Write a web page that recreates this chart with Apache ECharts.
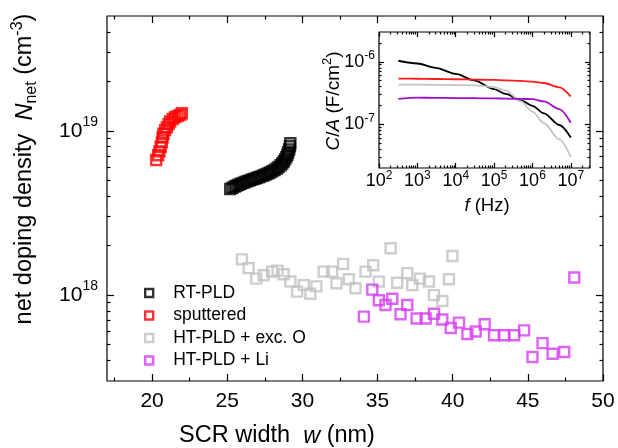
<!DOCTYPE html>
<html>
<head>
<meta charset="utf-8">
<script src="https://cdn.jsdelivr.net/npm/echarts@6.0.0/dist/echarts.min.js"></script>
<style>
html, body { margin: 0; padding: 0; background: #fff; }
#chart { width: 618px; height: 448px; }
</style>
</head>
<body>
<div id="chart"></div>
<script>
'use strict';
// main plot: SCR width w (nm) -> net doping density (cm^-3)
const rtPldW = [25.2, 25.35, 25.5, 25.62, 25.75, 25.9, 26.05, 26.2, 26.35, 26.5, 26.65, 26.8, 26.95, 27.1, 27.25, 27.4, 27.55, 27.7, 27.85, 28.0, 28.15, 28.3, 28.42, 28.55, 28.66, 28.76, 28.85, 28.93, 29.0, 29.06, 29.12, 29.17, 29.2];
const rtPldN = [4.42e18, 4.5e18, 4.58e18, 4.64e18, 4.7e18, 4.76e18, 4.82e18, 4.88e18, 4.94e18, 4.99e18, 5.05e18, 5.1e18, 5.16e18, 5.22e18, 5.28e18, 5.35e18, 5.42e18, 5.5e18, 5.58e18, 5.67e18, 5.77e18, 5.9e18, 6.02e18, 6.17e18, 6.33e18, 6.5e18, 6.7e18, 6.92e18, 7.15e18, 7.4e18, 7.7e18, 8.05e18, 8.4e18];

const sputW = [20.27, 20.4, 20.49, 20.57, 20.65, 20.7, 20.75, 20.87, 20.98, 21.1, 21.2, 21.37, 21.53, 21.7, 21.87, 21.98];
const sputN = [6.65e18, 7.1e18, 7.5e18, 8.0e18, 8.5e18, 9.1e18, 9.6e18, 1.01e19, 1.05e19, 1.10e19, 1.14e19, 1.18e19, 1.21e19, 1.23e19, 1.25e19, 1.28e19];

const htOW = [25.98, 26.42, 26.93, 27.42, 27.98, 28.35, 28.75, 29.2, 29.65, 30.09, 30.53, 30.93, 31.42, 31.98, 32.27, 32.71, 33.09, 33.53, 34.2, 34.71, 35.09, 35.87, 36.31, 36.98, 37.31, 37.82, 38.42, 38.75, 39.31, 39.75, 39.98];
const htON = [1.65e18, 1.46e18, 1.26e18, 1.32e18, 1.39e18, 1.41e18, 1.34e18, 1.21e18, 1.05e18, 1.15e18, 1.02e18, 1.13e18, 1.39e18, 1.39e18, 1.18e18, 1.55e18, 1.25e18, 1.10e18, 1.39e18, 1.52e18, 1.21e18, 1.93e18, 1.19e18, 1.36e18, 1.15e18, 1.26e18, 1.21e18, 1.0e18, 9.2e17, 1.25e18, 1.73e18];

const htLiW = [34.09, 34.65, 35.09, 35.53, 35.98, 36.53, 36.98, 37.6, 38.2, 38.75, 39.31, 39.87, 40.42, 40.98, 41.53, 42.13, 42.75, 43.42, 44.09, 44.75, 45.31, 45.98, 46.65, 47.42, 48.09];
const htLiN = [7.4e17, 1.08e18, 9.3e17, 8.7e17, 9.5e17, 7.65e17, 8.7e17, 7.2e17, 7.2e17, 7.7e17, 7.1e17, 6.3e17, 6.8e17, 5.8e17, 6.0e17, 6.65e17, 5.7e17, 5.7e17, 5.7e17, 6.1e17, 4.2e17, 5.1e17, 4.4e17, 4.5e17, 1.28e18];

// inset: f (Hz) -> C/A (F/cm^2)
const freqHz = [320, 1e3, 3e3, 1e4, 3e4, 1e5, 2e5, 5e5, 1e6, 2e6, 5e6, 1e7];
const capRtPld = [1.04e-6, 9.4e-7, 8.0e-7, 6.4e-7, 5.06e-7, 3.67e-7, 3.08e-7, 2.41e-7, 1.98e-7, 1.50e-7, 9.75e-8, 6.17e-8];
const capSput = [5.38e-7, 5.36e-7, 5.31e-7, 5.26e-7, 5.2e-7, 5.13e-7, 5.05e-7, 4.94e-7, 4.82e-7, 4.58e-7, 3.9e-7, 2.79e-7];
const capHtO = [4.31e-7, 4.31e-7, 4.28e-7, 4.25e-7, 4.2e-7, 3.95e-7, 3.49e-7, 2.32e-7, 1.6e-7, 1.04e-7, 5.73e-8, 3.0e-8];
const capHtLi = [2.56e-7, 2.67e-7, 2.65e-7, 2.63e-7, 2.62e-7, 2.6e-7, 2.58e-7, 2.55e-7, 2.53e-7, 2.32e-7, 1.75e-7, 1.06e-7];

// ticks
const mainXTicks = [20, 25, 30, 35, 40, 45, 50];
const mainXMinor = [17.5, 22.5, 27.5, 32.5, 37.5, 42.5, 47.5];
const mainYDecades = [18, 19];
const insetXDecades = [2, 3, 4, 5, 6, 7];
const insetYDecades = [-7, -6];

const FONT = '"Liberation Sans", Arial, sans-serif';
const lg = Math.log10;

const minorLogTicks = (lo, hi) => {
    const out = [];
    for (let e = Math.floor(lo); e <= Math.ceil(hi); e++) {
        for (let k = 2; k <= 9; k++) {
            const v = e + lg(k);
            if (v > lo + 1e-6 && v < hi - 1e-6) out.push(v);
        }
    }
    return out;
};

const powRich = (size, sup, lift) => ({
    b: { fontSize: size, lineHeight: size + 1, fontFamily: FONT, color: '#000' },
    s: { fontSize: sup, lineHeight: sup, padding: [0, 0, lift, 0], fontFamily: FONT, color: '#000' }
});

const genAxis = ({ grid, pos, min, max, ticks, len, labels, formatter, rich, margin, fontSize, z }) => ({
    type: 'value',
    gridIndex: grid,
    position: pos,
    z: z || 0,
    min: min,
    max: max,
    axisLine: { show: false, onZero: false },
    axisTick: { show: true, inside: true, length: len, customValues: ticks, lineStyle: { color: '#000', width: 1.2 } },
    axisLabel: labels ? {
        show: true, customValues: labels, formatter: formatter, rich: rich, margin: margin,
        fontSize: fontSize, fontFamily: FONT, color: '#000'
    } : { show: false },
    splitLine: { show: false }
});

const mainYMin = lg(3e17), mainYMax = lg(5e19);
const insetYMin = lg(2e-8), insetYMax = lg(3e-6);
const insetXMin = 2, insetXMax = 7.5;

const mainYMinor = minorLogTicks(mainYMin, mainYMax);
const insetXMinor = minorLogTicks(insetXMin, insetXMax);
const insetYMinor = minorLogTicks(insetYMin, insetYMax);

const powFmt = v => `{b|10}{s|${Math.round(v)}}`;

// grids 0/1: main plot (major / minor ticks), grids 2/3: inset (major / minor ticks)
const xAxes = [
    genAxis({ grid: 0, pos: 'bottom', min: 17, max: 50, ticks: mainXTicks, len: 7, labels: mainXTicks, formatter: v => String(v), margin: 10, fontSize: 21 }),
    genAxis({ grid: 0, pos: 'top', min: 17, max: 50, ticks: mainXTicks, len: 7 }),
    genAxis({ grid: 1, pos: 'bottom', min: 17, max: 50, ticks: mainXMinor, len: 3.5 }),
    genAxis({ grid: 1, pos: 'top', min: 17, max: 50, ticks: mainXMinor, len: 3.5 }),
    genAxis({ grid: 2, pos: 'bottom', min: insetXMin, max: insetXMax, ticks: insetXDecades, len: 5, labels: insetXDecades, formatter: powFmt, rich: powRich(18, 12, 12), margin: 4, z: 5 }),
    genAxis({ grid: 2, pos: 'top', min: insetXMin, max: insetXMax, ticks: insetXDecades, len: 5, z: 5 }),
    genAxis({ grid: 3, pos: 'bottom', min: insetXMin, max: insetXMax, ticks: insetXMinor, len: 2.5, z: 5 }),
    genAxis({ grid: 3, pos: 'top', min: insetXMin, max: insetXMax, ticks: insetXMinor, len: 2.5, z: 5 })
];

const yAxes = [
    genAxis({ grid: 0, pos: 'left', min: mainYMin, max: mainYMax, ticks: mainYDecades, len: 7, labels: mainYDecades, formatter: powFmt, rich: powRich(21, 14, 18), margin: 9 }),
    genAxis({ grid: 0, pos: 'right', min: mainYMin, max: mainYMax, ticks: mainYDecades, len: 7 }),
    genAxis({ grid: 1, pos: 'left', min: mainYMin, max: mainYMax, ticks: mainYMinor, len: 3.5 }),
    genAxis({ grid: 1, pos: 'right', min: mainYMin, max: mainYMax, ticks: mainYMinor, len: 3.5 }),
    genAxis({ grid: 2, pos: 'left', min: insetYMin, max: insetYMax, ticks: insetYDecades, len: 5, labels: insetYDecades, formatter: powFmt, rich: powRich(18, 12, 12), margin: 4, z: 5 }),
    genAxis({ grid: 2, pos: 'right', min: insetYMin, max: insetYMax, ticks: insetYDecades, len: 5, z: 5 }),
    genAxis({ grid: 3, pos: 'left', min: insetYMin, max: insetYMax, ticks: insetYMinor, len: 2.5, z: 5 }),
    genAxis({ grid: 3, pos: 'right', min: insetYMin, max: insetYMax, ticks: insetYMinor, len: 2.5, z: 5 })
];

const genScatter = (name, ws, ns, color) => ({
    name: name,
    type: 'scatter',
    xAxisIndex: 0,
    yAxisIndex: 0,
    symbol: 'rect',
    symbolSize: 10,
    itemStyle: { color: 'rgba(255,255,255,0)', borderColor: color, borderWidth: 2.4 },
    data: ws.map((w, i) => [w, lg(ns[i])])
});

const genLine = (caps, color) => ({
    type: 'line',
    xAxisIndex: 4,
    yAxisIndex: 4,
    z: 5,
    showSymbol: false,
    smooth: 0.3,
    smoothMonotone: 'x',
    lineStyle: { color: color, width: 1.8 },
    data: freqHz.map((f, i) => [lg(f), lg(caps[i])])
});

const titleRich = size => ({
    n: { fontSize: size, lineHeight: size + 3, fontFamily: FONT, fill: '#000' },
    i: { fontSize: size, lineHeight: size + 3, fontFamily: FONT, fontStyle: 'italic', fill: '#000' },
    sub: { fontSize: Math.round(size * 0.66), lineHeight: Math.round(size * 0.66), padding: [13, 0, 0, 0], fontFamily: FONT, fill: '#000' },
    sup: { fontSize: Math.round(size * 0.66), lineHeight: Math.round(size * 0.66), padding: [0, 0, 14, 0], fontFamily: FONT, fill: '#000' }
});

const genTitle = (text, x, y, size, rotated) => ({
    type: 'text',
    x: x,
    y: y,
    z: 10,
    rotation: rotated ? Math.PI / 2 : 0,
    style: { text: text, rich: titleRich(size), align: 'center', verticalAlign: 'middle', fill: '#000', fontSize: size, fontFamily: FONT }
});

const mainRect = { left: 107, top: 16, right: 15, bottom: 67 };
const insetRect = { left: 379, top: 32, right: 28, bottom: 280 };

const chart = echarts.init(document.getElementById('chart'), null, { renderer: 'canvas' });
chart.setOption({
    animation: false,
    backgroundColor: '#fff',
    grid: [
        Object.assign({ show: true, borderColor: '#000', borderWidth: 1.2, backgroundColor: 'transparent', containLabel: false, outerBoundsMode: 'none' }, mainRect),
        Object.assign({ show: false, containLabel: false, outerBoundsMode: 'none' }, mainRect),
        Object.assign({ show: true, borderColor: '#000', borderWidth: 1.2, backgroundColor: '#fff', containLabel: false, outerBoundsMode: 'none', z: 3 }, insetRect),
        Object.assign({ show: false, containLabel: false, outerBoundsMode: 'none' }, insetRect)
    ],
    xAxis: xAxes,
    yAxis: yAxes,
    legend: {
        orient: 'vertical',
        left: 144,
        top: 284,
        padding: 0,
        icon: 'rect',
        itemWidth: 8,
        itemHeight: 8,
        itemGap: 4.5,
        itemStyle: { borderWidth: 2.4 },
        textStyle: { fontSize: 17.5, lineHeight: 17, fontFamily: FONT, color: '#000', padding: [0, 0, 0, 15] },
        data: ['RT-PLD', 'sputtered', 'HT-PLD + exc. O', 'HT-PLD + Li']
    },
    graphic: [
        genTitle('{n|net doping density  }{i|N}{sub|net}{n| (cm}{sup|-3}{n|)}', 25, 169, 23.5, true),
        genTitle('{n|SCR width  }{i|w}{n| (nm)}', 277, 436, 23.5, false),
        genTitle('{i|C}{n|/}{i|A}{n| (F/cm}{sup|2}{n|)}', 334, 101, 19, true),
        genTitle('{i|f}{n| (Hz)}', 487, 206, 18.5, false)
    ],
    series: [
        genScatter('RT-PLD', rtPldW, rtPldN, '#000000'),
        genScatter('sputtered', sputW, sputN, '#ff0000'),
        genScatter('HT-PLD + exc. O', htOW, htON, '#c0c0c0'),
        genScatter('HT-PLD + Li', htLiW, htLiN, '#d63cf2'),
        genLine(capRtPld, '#000000'),
        genLine(capSput, '#ff1a1a'),
        genLine(capHtO, '#c4c4c4'),
        genLine(capHtLi, '#9b10c8')
    ]
});
</script>
</body>
</html>
